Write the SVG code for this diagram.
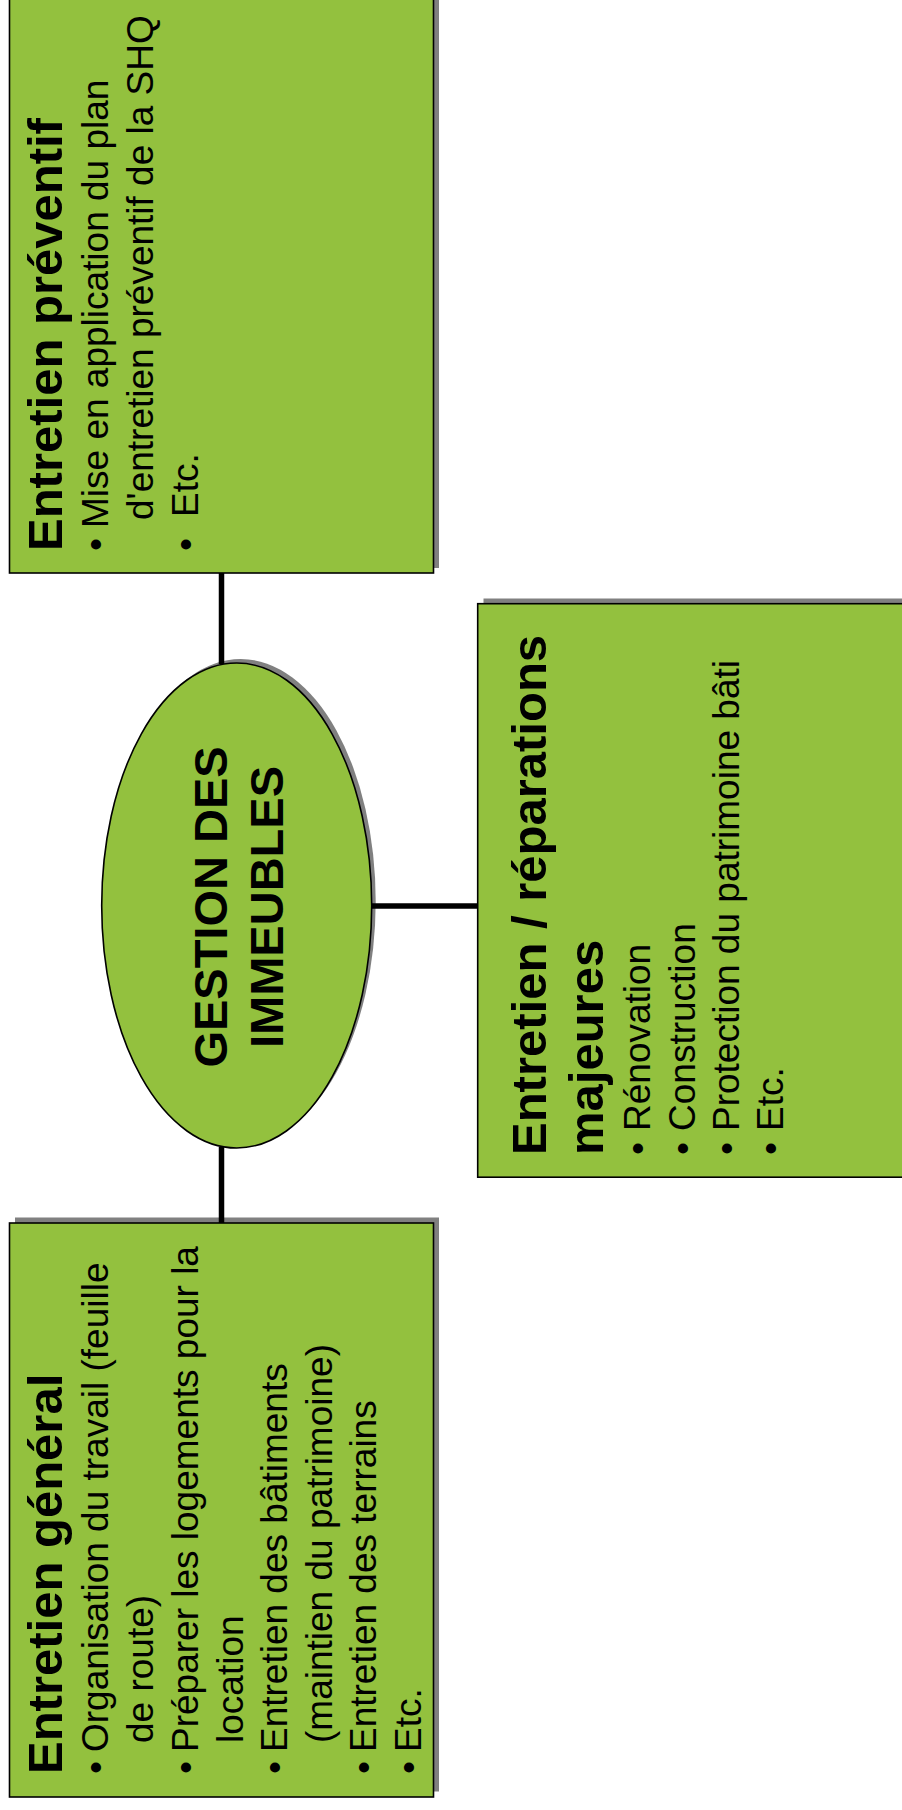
<svg xmlns="http://www.w3.org/2000/svg" width="902" height="1810" viewBox="0 0 902 1810">
<style>
.box{fill:#93C13E;stroke:#000;stroke-width:1.6}
.sh{fill:#808080}
.t{font-family:"Liberation Sans",Arial,sans-serif;fill:#000}
.ti{font-size:49px;font-weight:bold}
.b{font-size:37px}
.c{font-size:47px;font-weight:bold;text-anchor:middle}
.con{stroke:#000;stroke-width:5.5;fill:none}
</style>
<rect width="902" height="1810" fill="#fff"/>
<g id="preventif">
<rect class="sh" x="15" y="-7" width="424" height="575"/>
<rect class="box" x="9.5" y="-2" width="424" height="575"/>
<g transform="rotate(-90)" class="t">
<text class="ti" x="-551" y="62">Entretien préventif</text>
<text class="b" x="-551" y="108">•</text>
<text class="b" x="-528" y="108">Mise en application du plan</text>
<text class="b" x="-520" y="153">d'entretien préventif de la SHQ</text>
<text class="b" x="-551" y="198">•</text>
<text class="b" x="-517" y="198">Etc.</text>
</g>
</g>
<g id="gestion">
<ellipse class="sh" cx="240.7" cy="901.5" rx="135" ry="242.5"/>
<ellipse class="box" cx="236.7" cy="905.5" rx="135" ry="242.5"/>
<g transform="rotate(-90)" class="t">
<text class="c" x="-907" y="227">GESTION DES</text>
<text class="c" x="-907" y="283">IMMEUBLES</text>
</g>
</g>
<g id="majeures">
<rect class="sh" x="483.5" y="598.5" width="430" height="573.5"/>
<rect class="box" x="477.7" y="603.7" width="430" height="573.5"/>
<g transform="rotate(-90)" class="t">
<text class="ti" x="-1155" y="546">Entretien / réparations</text>
<text class="ti" x="-1155" y="603">majeures</text>
<text class="b" x="-1155" y="650">•</text>
<text class="b" x="-1131" y="650">Rénovation</text>
<text class="b" x="-1155" y="695">•</text>
<text class="b" x="-1131" y="695">Construction</text>
<text class="b" x="-1155" y="739">•</text>
<text class="b" x="-1131" y="739">Protection du patrimoine bâti</text>
<text class="b" x="-1155" y="783">•</text>
<text class="b" x="-1131" y="783">Etc.</text>
</g>
</g>
<g id="general">
<rect class="sh" x="15" y="1217.5" width="424" height="574"/>
<rect class="box" x="9.5" y="1223" width="424" height="574"/>
<g transform="rotate(-90)" class="t">
<text class="ti" x="-1774" y="62">Entretien général</text>
<text class="b" x="-1774" y="108">•</text>
<text class="b" x="-1752" y="108">Organisation du travail (feuille</text>
<text class="b" x="-1743" y="153">de route)</text>
<text class="b" x="-1774" y="198">•</text>
<text class="b" x="-1752" y="198">Préparer les logements pour la</text>
<text class="b" x="-1743" y="243">location</text>
<text class="b" x="-1774" y="287">•</text>
<text class="b" x="-1752" y="287">Entretien des bâtiments</text>
<text class="b" x="-1743" y="332">(maintien du patrimoine)</text>
<text class="b" x="-1774" y="376">•</text>
<text class="b" x="-1752" y="376">Entretien des terrains</text>
<text class="b" x="-1774" y="421">•</text>
<text class="b" x="-1752" y="421">Etc.</text>
</g>
</g>
<g id="connectors">
<line class="con" x1="221.5" y1="573" x2="221.5" y2="664"/>
<line class="con" x1="221.5" y1="1147" x2="221.5" y2="1223"/>
<line class="con" x1="371.7" y1="906" x2="477.7" y2="906"/>
</g>
</svg>
